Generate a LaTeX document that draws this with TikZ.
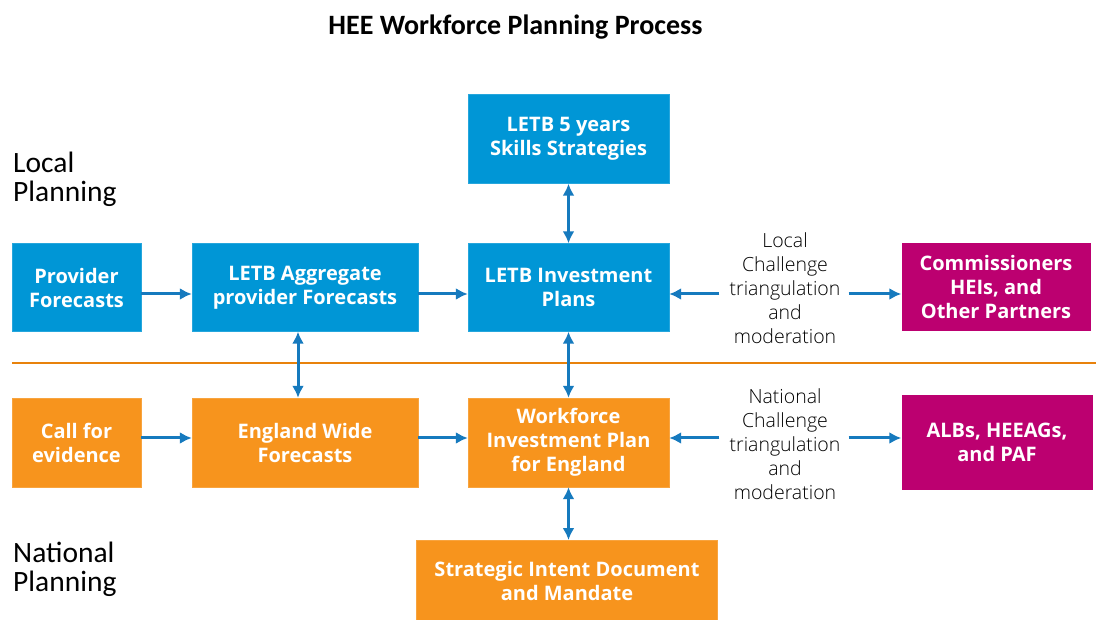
\documentclass[tikz,border=0pt]{standalone}
\usepackage{fontspec}
\setmainfont{Open Sans}
\newfontfamily\titlefont{Carlito}
\newfontfamily\notefont{Open Sans Light}
\usetikzlibrary{arrows.meta}
\definecolor{hblue}{RGB}{0,150,214}
\definecolor{horange}{RGB}{247,148,29}
\definecolor{hmag}{RGB}{188,0,112}
\definecolor{harrow}{RGB}{22,122,190}
\definecolor{hline}{RGB}{232,130,12}
\tikzset{
  box/.style={rectangle, inner sep=0pt, align=center, text=white,
    font=\bfseries\fontsize{20}{24}\selectfont},
  bluebox/.style={box, fill=hblue, draw=hblue!85!white},
  orangebox/.style={box, fill=horange, draw=horange!85!white},
  magbox/.style={box, fill=hmag},
  arr/.style={draw=harrow, line width=3pt, -{Latex[length=12pt,width=12pt]}},
  darr/.style={draw=harrow, line width=3pt, {Latex[length=12pt,width=12pt]}-{Latex[length=12pt,width=12pt]}},
  note/.style={align=center, text=black, font=\notefont\fontsize{19.5}{24}\selectfont, inner sep=0pt},
  side/.style={align=left, anchor=north west, inner sep=0pt, font=\titlefont\fontsize{29.5}{29}\selectfont}
}
\begin{document}
\begin{tikzpicture}[x=1pt,y=-1pt]
\useasboundingbox (0,0) rectangle (1096,620);
\node[font=\titlefont\bfseries\fontsize{28}{30}\selectfont, inner sep=0pt] (title) at (515.5,27) {HEE Workforce Planning Process};
\node[side] (local) at (13,152) {Local\\Planning};
\node[side] (national) at (13,542) {National\\Planning};

\node[bluebox, minimum width=129pt, minimum height=88pt] (prov) at (76.5,287.5) {\strut Provider\\Forecasts};
\node[bluebox, minimum width=226pt, minimum height=88pt] (agg) at (305,287.5) {LETB Aggregate\\provider Forecasts};
\node[bluebox, minimum width=201pt, minimum height=88pt] (inv) at (568.5,287.5) {LETB Investment\\Plans};
\node[bluebox, minimum width=201pt, minimum height=89pt] (skills) at (568.5,139) {LETB 5 years\\Skills Strategies};
\node[magbox, minimum width=189pt, minimum height=88pt] (comm) at (996,287.5) {Commissioners\\HEIs, and\\Other Partners};

\draw[hline, line width=2.6pt] (12,363) -- (1096,363);

\node[orangebox, minimum width=129pt, minimum height=89pt] (call) at (76.5,442.5) {Call for\\evidence};
\node[orangebox, minimum width=226pt, minimum height=89pt] (eng) at (305,442.5) {England Wide\\Forecasts};
\node[orangebox, minimum width=201pt, minimum height=89pt] (wip) at (568.5,442.5) {Workforce\\Investment Plan\\for England};
\node[magbox, minimum width=191pt, minimum height=95pt] (alb) at (997,442.5) {ALBs, HEEAGs,\\and PAF};
\node[orangebox, minimum width=301pt, minimum height=81pt, anchor=north] (sid) at (567,540) {Strategic Intent Document\\and Mandate};

\node[note] (lchal) at (785,288.5) {Local\\Challenge\\triangulation\\and\\moderation};
\node[note] (nchal) at (785,444.5) {National\\Challenge\\triangulation\\and\\moderation};

% top row
\draw[arr] (prov.east |- 0,294) -- (agg.west |- 0,294);
\draw[arr] (agg.east |- 0,294) -- (inv.west |- 0,294);
\draw[arr] ([xshift=-10pt]lchal.west |- 0,294) -- (inv.east |- 0,294);
\draw[arr] ([xshift=8pt]lchal.east |- 0,294) -- (comm.west |- 0,294);
\draw[darr] (skills.south) -- (inv.north);
% bottom row
\draw[arr] (call.east |- 0,438) -- (eng.west |- 0,438);
\draw[arr] (eng.east |- 0,438) -- (wip.west |- 0,438);
\draw[arr] ([xshift=-10pt]nchal.west |- 0,438) -- (wip.east |- 0,438);
\draw[arr] ([xshift=8pt]nchal.east |- 0,438) -- (alb.west |- 0,438);
% verticals
\draw[darr] (agg.south -| 298,0) -- (eng.north -| 298,0);
\draw[darr] (inv.south) -- (wip.north);
\draw[darr] (wip.south) -- (sid.north -| wip.south);
\end{tikzpicture}
\end{document}
